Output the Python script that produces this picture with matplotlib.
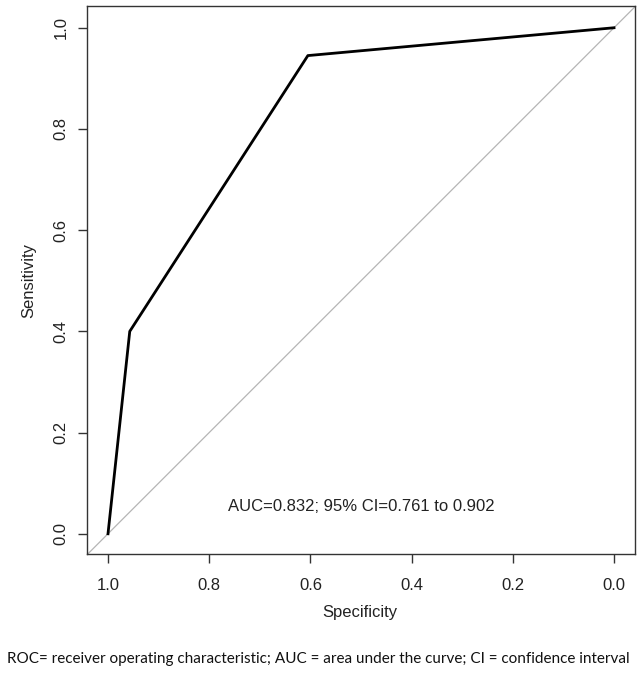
import matplotlib
matplotlib.use("Agg")
import matplotlib.pyplot as plt
import numpy as np

# ROC curve points (specificity, sensitivity)
specificity = [1.0, 0.957, 0.605, 0.0]
sensitivity = [0.0, 0.40, 0.945, 1.0]
x_ticks = [1.0, 0.8, 0.6, 0.4, 0.2, 0.0]
y_ticks = [0.0, 0.2, 0.4, 0.6, 0.8, 1.0]
auc_text = "AUC=0.832; 95% CI=0.761 to 0.902"
caption = ("ROC= receiver operating characteristic; AUC = area under the curve; "
           "CI = confidence interval")

plt.rcParams['font.family'] = ['Liberation Sans', 'DejaVu Sans']

fig = plt.figure(figsize=(6.41, 6.73), dpi=100)
ax = fig.add_axes([87 / 641, 1 - 554 / 673, 548 / 641, 548 / 673])

lo, hi = -0.0415, 1.0415
ax.set_xlim(hi, lo)
ax.set_ylim(-0.04, 1.043)

# chance diagonal
ax.plot([hi, lo], [1 - hi, 1 - lo], color='#b5b5b5', lw=0.9)
ax.plot(specificity, sensitivity, color='black', lw=2)

ax.text(0.5, 0.053, auc_text, ha='center', va='center', fontsize=12, color='#222222')

ax.set_xticks(x_ticks)
ax.set_xticklabels([f"{v:.1f}" for v in x_ticks])
ax.set_yticks(y_ticks)
ax.set_yticklabels([f"{v:.1f}" for v in y_ticks], rotation=90, va='center')
ax.tick_params(axis='both', direction='out', length=6.5, width=1, color='#333333',
               labelsize=12, labelcolor='#222222')
ax.tick_params(axis='x', pad=10.5)
ax.tick_params(axis='y', pad=7)
for s in ax.spines.values():
    s.set_color('#333333')
    s.set_linewidth(1)

ax.set_xlabel("Specificity", fontsize=12, color='#222222', va='center')
ax.xaxis.set_label_coords(273 / 548, -58 / 548)
ax.set_ylabel("Sensitivity", fontsize=12, color='#222222', va='center', ha='center')
ax.yaxis.set_label_coords(-58 / 548, 0.5)

# caption, sized to span the width used in the reference
cap = fig.text(7 / 641, 1 - 659 / 673, caption, ha='left', va='center',
               fontsize=11, family=['Lato', 'DejaVu Sans'], color='#111111')
fig.canvas.draw()
w = cap.get_window_extent().width
cap.set_fontsize(11 * 621 / w)

fig.savefig("out.png", dpi=100)
